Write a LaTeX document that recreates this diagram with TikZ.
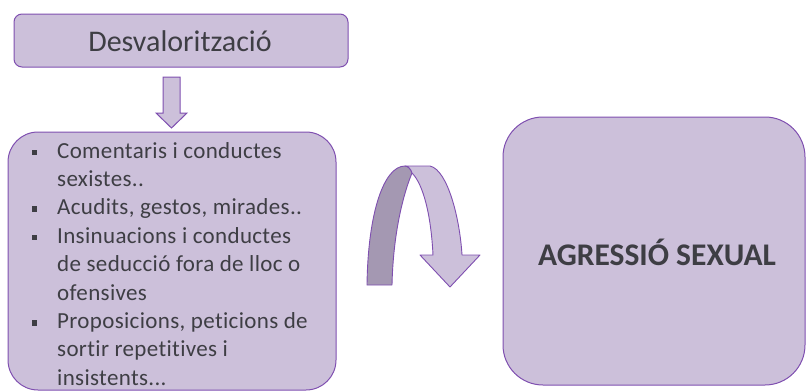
\documentclass[tikz,border=0pt]{standalone}
\usepackage{fontspec}
\setmainfont[Ligatures=CommonOff]{Carlito}
\definecolor{boxfill}{HTML}{CCC0DA}
\definecolor{boxline}{HTML}{7F4FB0}
\definecolor{darkband}{HTML}{A498B2}
\definecolor{txt}{HTML}{3E3E44}
\newcommand{\sqbullet}{\makebox[0pt][r]{\raisebox{3pt}{\color{txt}\rule{5.5pt}{5.5pt}}\hspace{20pt}}}
\begin{document}
\begin{tikzpicture}[x=1pt,y=-1pt,
  purplebox/.style={draw=boxline, fill=boxfill, line width=1pt},
  bandpart/.style={draw=boxline, line width=0.9pt, line join=round}]
\useasboundingbox (0,0) rectangle (807,391);
% top box
\node[purplebox, rounded corners=8pt, minimum width=334pt, minimum height=53pt, inner sep=0pt] (top) at (181,40.5) {};
\node[text=txt, font=\fontsize{30}{33}\selectfont, inner sep=0pt] (toptxt) at (180,41) {Desvalorització};
% down arrow
\draw[purplebox, line join=miter] (163,77) -- (180,77) -- (180,113) -- (187,113) -- (171.5,128) -- (156,113) -- (163,113) -- cycle;
% left box
\node[purplebox, rounded corners=30pt, minimum width=328pt, minimum height=258pt, inner sep=0pt] (left) at (172,261) {};
\node[anchor=north west, align=left, text=txt, inner sep=0pt,
  font=\fontsize{23}{28.4}\selectfont\addfontfeature{LetterSpace=1.5}] (list) at (57,142) {%
\sqbullet Comentaris i conductes\\
sexistes..\\
\sqbullet Acudits, gestos, mirades..\\
\sqbullet Insinuacions i conductes\\
de seducció fora de lloc o\\
ofensives\\
\sqbullet Proposicions, peticions de\\
sortir repetitives i\\
insistents...};
% right box
\node[purplebox, rounded corners=40pt, minimum width=302pt, minimum height=268pt, inner sep=0pt] (right) at (654,251) {};
\node[text=txt, font=\fontsize{31.5}{34}\selectfont\bfseries, inner sep=0pt] (righttxt) at (657,252) {AGRESSIÓ SEXUAL};
% curved arrow: back (dark) part
\draw[bandpart, fill=darkband] (367,285) .. controls (368,212) and (384,166) .. (405,166)
  .. controls (408,166) and (411,169) .. (412,173)
  .. controls (401,200) and (393,240) .. (392,285) -- cycle;
% front (light) part with head
\draw[bandpart, fill=boxfill] (405,166) -- (430,166)
  .. controls (448,170) and (460,220) .. (462,255)
  -- (480,255) -- (450,287) -- (420,255) -- (433,255)
  .. controls (431,214) and (423,184) .. (412,173)
  .. controls (411,169) and (408,166) .. (405,166) -- cycle;
\end{tikzpicture}
\end{document}
